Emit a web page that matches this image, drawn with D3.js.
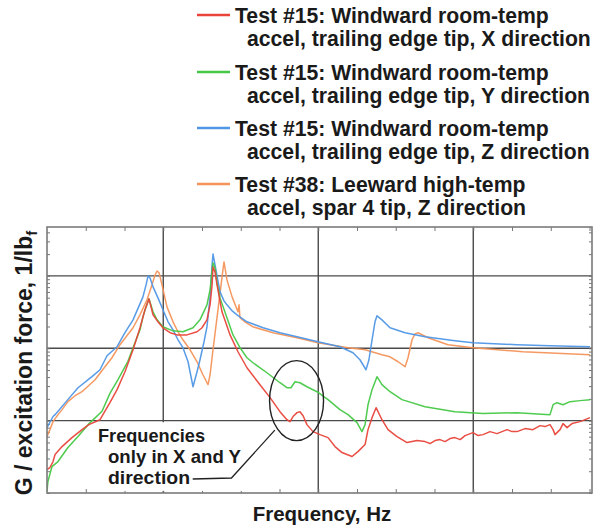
<!DOCTYPE html>
<html><head><meta charset="utf-8">
<script src="https://cdn.jsdelivr.net/npm/d3@7"></script>
<style>
html,body{margin:0;padding:0;background:#fff;}
svg text{font-family:"Liberation Sans",Arial,Helvetica,sans-serif;font-weight:bold;fill:#1a1a1a;}
</style></head>
<body><svg id="c" width="603" height="527"></svg>
<script>
// ---- data (frequency in Hz, response in G/lbf) ----
const seriesNames = [
  ["Test #15: Windward room-temp", "accel, trailing edge tip, X direction"],
  ["Test #15: Windward room-temp", "accel, trailing edge tip, Y direction"],
  ["Test #15: Windward room-temp", "accel, trailing edge tip, Z direction"],
  ["Test #38: Leeward high-temp", "accel, spar 4 tip, Z direction"]
];
const seriesColors = ["#e8443a", "#46c846", "#4f96e6", "#f4935a"];

const xGrid = [10, 20, 30];
const yGrid = [1e-3, 1e-2, 1e-1];

const redX = [[2.5,0.000211],[2.69,0.000225],[2.89,0.000272],[3.02,0.00034],[3.47,0.000438],[4.11,0.000583],[4.76,0.000751],[5.2,0.00088],[5.92,0.00103],[6.56,0.00177],[7.02,0.00268],[7.53,0.00474],[8.05,0.00953],[8.5,0.0192],[8.82,0.034],[9.08,0.0482],
 [9.34,0.029],[9.66,0.0232],[9.98,0.0192],[10.44,0.0164],[10.89,0.0153],[11.53,0.0153],[12.18,0.0169],[12.5,0.0192],[12.82,0.0247],[13.02,0.0398],[13.15,0.0751],[13.21,0.133],[13.34,0.1135],[13.47,0.0751],[13.79,0.0319],[14.31,0.0153],[14.82,0.00895],[15.4,0.00538],[16.24,0.00314],[16.89,0.00208],[17.53,0.00133],[17.98,0.00103],[18.18,0.000969],[18.37,0.00114],[18.63,0.00129],[18.82,0.00133],[19.02,0.00117],[19.27,0.000881],[19.66,0.000705],[20.11,0.000641],[20.63,0.000583],[21.08,0.000438],[21.53,0.000362],[22.18,0.000319],[22.56,0.000373],[23.02,0.000467],[23.21,0.000751],[23.47,0.0011],[23.73,0.00151],[24.11,0.00103],[24.5,0.000751],[25.08,0.000602],[25.73,0.000497],[26.37,0.000530],[26.89,0.000513],[27.21,0.000482],[27.53,0.00053],[27.85,0.000547],[28.18,0.000513],[28.5,0.000565],[28.82,0.000583],[29.16,0.000547],[29.47,0.000621],[29.98,0.000683],[30.31,0.000621],[30.63,0.000641],[31.08,0.000705],[31.53,0.000662],[32.18,0.000751],[32.5,0.000705],[32.82,0.000705],[33.34,0.000776],[33.85,0.000751],[34.31,0.000853],[34.63,0.000827],[34.95,0.000881],[35.15,0.000751],[35.27,0.000641],[35.6,0.000751],[35.79,0.00091],[36.05,0.0008],[36.37,0.00091],[36.89,0.000969],[37.53,0.0011]];

const greenY = [[2.5,0.000105],[2.56,0.000144],[2.82,0.000232],[3.21,0.000272],[3.85,0.000425],[4.5,0.000602],[5.15,0.00088],[6.05,0.00135],[6.56,0.00238],[7.08,0.00370],[7.72,0.0066],[8.05,0.0102],[8.5,0.018],[8.69,0.0272],[8.89,0.0373],[9.08,0.0482],
 [9.34,0.0319],[9.6,0.0247],[9.98,0.0198],[10.63,0.0174],[11.27,0.0169],[11.92,0.0192],[12.37,0.0247],[12.82,0.0398],[13.02,0.0641],[13.15,0.121],[13.21,0.151],[13.34,0.129],[13.47,0.08],[13.66,0.0497],[14.11,0.0264],[14.5,0.0153],[14.95,0.0102],[15.4,0.0074],[15.79,0.00631],[16.69,0.00459],[17.53,0.00334],[17.98,0.00285],[18.24,0.00285],[18.5,0.00345],[18.82,0.00334],[19.27,0.00294],[19.92,0.00251],[20.63,0.00195],[21.4,0.00142],[21.92,0.00121],[22.5,0.000938],[22.82,0.000705],[23.02,0.000881],[23.21,0.00166],[23.47,0.00268],[23.79,0.00405],[24.11,0.00314],[24.63,0.00251],[25.4,0.00195],[26.89,0.00156],[28.82,0.00133],[30.63,0.00125],[32.82,0.00129],[34.95,0.00121],[35.15,0.00166],[35.4,0.00177],[35.79,0.00166],[36.24,0.00183],[36.89,0.00189],[37.53,0.00195]];

const blueZ = [[2.5,0.0008],[2.89,0.00114],[3.02,0.00121],[3.79,0.00189],[4.5,0.00285],[5.4,0.00405],[5.92,0.00505],[6.37,0.00788],[7.02,0.0105],[7.53,0.0164],[8.05,0.0247],[8.69,0.0513],[8.89,0.0751],[9.02,0.1],[9.15,0.0938],[9.34,0.0705],[9.66,0.0497],[9.98,0.034],[10.31,0.0232],[10.63,0.018],[10.95,0.0131],[11.27,0.0102],[11.6,0.00651],[11.92,0.00294],[12.18,0.00474],[12.37,0.00694],[12.63,0.0123],[12.82,0.0198],[13.02,0.0513],[13.15,0.142],[13.21,0.201],[13.34,0.142],[13.47,0.1],[13.66,0.0602],[13.92,0.0452],[14.11,0.0398],[14.44,0.0329],[14.76,0.029],[15.4,0.0232],[16.44,0.0192],[17.53,0.0164],[18.63,0.0144],[19.98,0.0123],[21.4,0.0105],[22.24,0.00867],[22.69,0.00694],[23.08,0.00505],[23.27,0.00694],[23.47,0.0131],[23.66,0.0232],[23.79,0.0281],[24.11,0.0247],[24.63,0.0192],[25.6,0.0164],[26.89,0.0144],[28.82,0.0127],[29.98,0.0119],[32.82,0.0112],[34.95,0.0108],[37.53,0.0105]];

const orangeZ = [[2.5,0.000602],[2.69,0.000751],[2.89,0.000969],[3.21,0.00121],[3.47,0.00142],[3.85,0.00183],[4.31,0.00221],[4.76,0.00251],[5.6,0.00368],[6.24,0.00556],[6.69,0.0074],[7.21,0.0112],[8.05,0.0192],[8.5,0.029],[8.95,0.0467],[9.27,0.0751],[9.47,0.103],[9.6,0.117],[9.73,0.11],[9.92,0.0751],[10.24,0.0373],[10.63,0.0232],[10.95,0.0169],[11.27,0.0131],[11.73,0.00953],[12.18,0.00651],[12.56,0.00431],[12.89,0.00314],[13.02,0.00431],[13.21,0.00953],[13.53,0.034],[13.73,0.0751],[13.85,0.121],[13.92,0.156],[14.11,0.0881],[14.44,0.0513],[14.82,0.0319],[14.89,0.0398],[14.95,0.0264],[15.27,0.0232],[15.79,0.0198],[17.08,0.0164],[18.63,0.014],[19.98,0.0119],[21.92,0.0102],[23.02,0.00953],[24.11,0.00813],[24.63,0.00763],[25.15,0.00651],[25.6,0.00556],[25.79,0.0074],[26.05,0.0131],[26.24,0.0158],[26.44,0.0164],[27.08,0.014],[28.37,0.0112],[29.98,0.0102],[33.21,0.00895],[37.53,0.00813]];

const seriesData = [redX, greenY, blueZ, orangeZ];
const annotationLines = ["Frequencies", "only in X and Y", "direction"];
const xTitle = "Frequency, Hz";

// ---- drawing ----
const svg = d3.select("#c");
const L = 47, R = 592, T = 227, B = 493;
const x = d3.scaleLinear().domain([2.5, 37.66]).range([L, R]);
const y = d3.scaleLog().domain([1e-4, 0.474]).range([B, T]);

svg.append("defs").append("clipPath").attr("id","clip")
  .append("rect").attr("x",L).attr("y",T).attr("width",R-L).attr("height",B-T);

// grid
const g = svg.append("g");
g.selectAll(".vg").data(xGrid).join("line")
  .attr("x1",d=>x(d)).attr("x2",d=>x(d)).attr("y1",T).attr("y2",B)
  .attr("stroke","#4a4a4a").attr("stroke-width",1.4);
g.selectAll(".hg").data(yGrid).join("line")
  .attr("x1",L).attr("x2",R).attr("y1",d=>y(d)).attr("y2",d=>y(d))
  .attr("stroke","#4a4a4a").attr("stroke-width",1.4);

// minor ticks
const xMinor = d3.range(5, 37.6, 2.5);
const axB = d3.axisBottom(x).tickValues(xMinor).tickSize(-4).tickFormat("");
const axT = d3.axisTop(x).tickValues(xMinor).tickSize(-4).tickFormat("");
const yMinor = [];
[1e-4,1e-3,1e-2,1e-1].forEach(dec => { for (let k=1;k<10;k++){ const v=dec*k; if (v<=0.474) yMinor.push(v);} });
const axL = d3.axisLeft(y).tickValues(yMinor).tickSize(-3).tickFormat("");
const axR = d3.axisRight(y).tickValues(yMinor).tickSize(-3).tickFormat("");
[[axB,`translate(0,${B})`],[axT,`translate(0,${T})`],[axL,`translate(${L},0)`],[axR,`translate(${R},0)`]].forEach(([a,tr])=>{
  const ga = svg.append("g").attr("transform",tr).call(a);
  ga.select(".domain").remove();
  ga.selectAll("line").attr("stroke","#777").attr("stroke-width",1);
});

// curves
const line = d3.line().x(d=>x(d[0])).y(d=>y(d[1])).curve(d3.curveLinear);
const cg = svg.append("g").attr("clip-path","url(#clip)");
[3,2,1,0].forEach(i=>{
  cg.append("path").datum(seriesData[i]).attr("d",line)
    .attr("fill","none").attr("stroke",seriesColors[i]).attr("stroke-width",1.5)
    .attr("stroke-linejoin","round").attr("opacity",0.95);
});

// frame
svg.append("rect").attr("x",L).attr("y",T).attr("width",R-L).attr("height",B-T)
  .attr("fill","none").attr("stroke","#7a7a7a").attr("stroke-width",1.6);

// annotation box + text
svg.append("rect").attr("x",x(5.75)).attr("y",y(9.5e-4)).attr("width",x(15.2)-x(5.75)).attr("height",y(1.07e-4)-y(9.5e-4)).attr("fill","#fff");
const ann = svg.append("g");
const annX = [98,108,108], annY = [442,463,484], annW = [107,133,82];
annotationLines.forEach((t,i)=>ann.append("text").attr("x",annX[i]).attr("y",annY[i]).attr("font-size",18.5)
  .attr("textLength",annW[i]).attr("lengthAdjust","spacingAndGlyphs").text(t));
svg.append("ellipse").attr("cx",x(18.6)).attr("cy",y(0.00189)).attr("rx",27).attr("ry",40)
  .attr("fill","none").attr("stroke","#222").attr("stroke-width",1.4);
svg.append("polyline").attr("points",`${x(11.9)},479 ${x(14.4)},478 ${x(17.2)},${y(0.00074)}`)
  .attr("fill","none").attr("stroke","#222").attr("stroke-width",1.3);

// axis titles
svg.append("text").attr("x",322).attr("y",521).attr("text-anchor","middle").attr("font-size",20.5).text(xTitle);
const yl = svg.append("text").attr("transform",`translate(32,363) rotate(-90)`)
  .attr("text-anchor","middle").attr("font-size",23);
yl.append("tspan").text("G / excitation force, 1/lb");
yl.append("tspan").attr("font-size",15).attr("dy",5).text("f");

// legend
const lg = svg.append("g");
const legY = [15, 72, 128, 184];
seriesNames.forEach((nm,i)=>{
  lg.append("line").attr("x1",197).attr("x2",230).attr("y1",legY[i]).attr("y2",legY[i])
    .attr("stroke",seriesColors[i]).attr("stroke-width",2.5);
  lg.append("text").attr("x",235).attr("y",legY[i]+7.5).attr("font-size",21.2).text(nm[0]);
  lg.append("text").attr("x",247).attr("y",legY[i]+31).attr("font-size",21.2).text(nm[1]);
});
</script></body></html>
